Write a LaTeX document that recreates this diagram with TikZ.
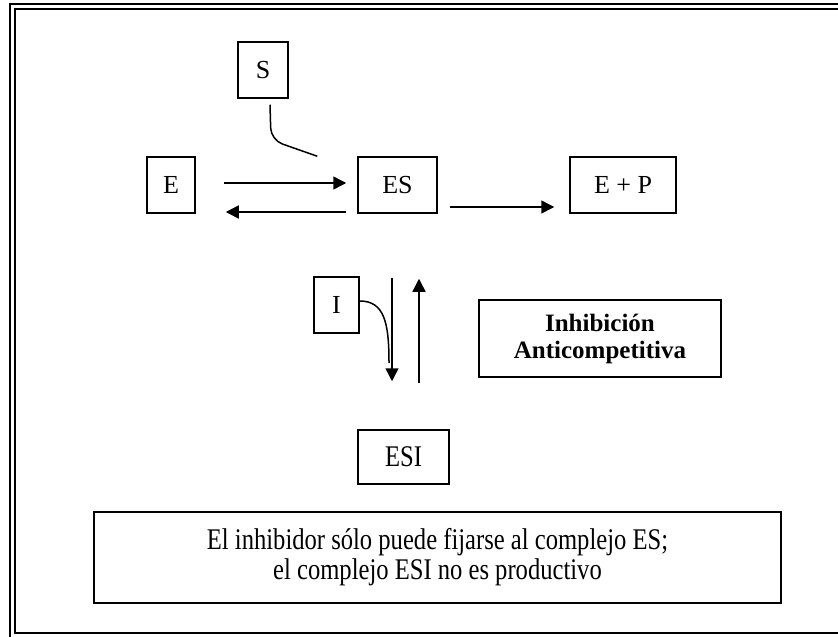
\documentclass[tikz,border=0pt]{standalone}
\usepackage{fontspec}
\setmainfont{Liberation Serif}
\newfontfamily\narrowserif[FakeStretch=0.82]{Liberation Serif}
\usepackage{tikz}
\usetikzlibrary{positioning, arrows.meta}
\tikzset{
    base/.style={
        font=\fontsize{13}{14}\selectfont,
        align=center
    },
    species/.style={
        base,
        rectangle,
        draw=black,
        line width=0.75pt,
        inner sep=0pt,
        minimum height=28pt
    },
    narrow/.style={
        font=\narrowserif\fontsize{15}{15}\selectfont
    },
    flow/.style={
        -{Triangle[length=6.5pt, width=6.5pt]},
        line width=0.75pt
    },
    link/.style={
        line width=0.75pt
    },
    frame/.style={
        line width=1pt
    }
}

\begin{document}
\begin{tikzpicture}[x=0.5pt, y=-0.5pt]
    \clip (0,0) rectangle (838,636);
    \fill[white] (0,0) rectangle (838,636);

    % Double frame
    \draw[frame] (10,4) rectangle (846,642);
    \draw[frame] (15,9) rectangle (840,633);

    % Species
    \node[species, minimum width=25pt] (S) at (263,70) {S};
    \node[species, minimum width=24pt] (E) at (171,185) {E};
    \node[species, minimum width=39.5pt] (ES) at (397.5,185) {ES};
    \node[species, minimum width=53pt] (EP) at (623,185) {E + P};
    \node[species, minimum width=22.5pt] (I) at (336.5,305) {I};
    \node[species, narrow, minimum width=45.5pt, minimum height=27pt] (ESI) at (403.5,457) {ESI};

    % Labels
    \node[species, minimum width=121pt, minimum height=38.5pt, font=\fontsize{12.5}{13.5}\selectfont\bfseries] (title) at (600,338.5) {Inhibición\\ Anticompetitiva};
    \node[species, narrow, minimum width=343.5pt, minimum height=45.5pt] (note) at (437.5,557.5) {El inhibidor sólo puede fijarse al complejo ES;\\ el complejo ESI no es productivo};

    % E <-> ES
    \draw[flow] ([xshift=14pt, yshift=1pt]E.east) -- ([xshift=-5.5pt, yshift=1pt]ES.west);
    \draw[flow] ([xshift=-5.5pt, yshift=-13.5pt]ES.west) -- ([xshift=15pt, yshift=-13.5pt]E.east);

    % ES -> E + P
    \draw[flow] ([xshift=6pt, yshift=-11pt]ES.east) -- ([xshift=-7.5pt, yshift=-11pt]EP.west);

    % S binds
    \draw[link, rounded corners=6pt] ([xshift=3.5pt, yshift=-3pt]S.south) -- (271,140) -- ([xshift=-20pt]ES.north west);

    % ES <-> ESI
    \draw[flow] ([xshift=-2.75pt, yshift=-32pt]ES.south) -- ([xshift=-5.75pt, yshift=24pt]ESI.north);
    \draw[flow] ([xshift=7.75pt, yshift=23pt]ESI.north) -- ([xshift=10.75pt, yshift=-32.5pt]ES.south);

    % I binds
    \draw[link] (I.east |- 0,301) .. controls (384,301) and (389,322) .. (389,363);

\end{tikzpicture}
\end{document}
